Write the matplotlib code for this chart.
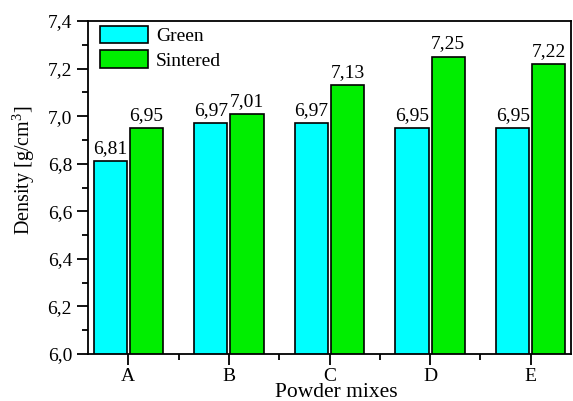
import matplotlib
matplotlib.use("Agg")
import matplotlib.pyplot as plt
from matplotlib.ticker import MultipleLocator
import numpy as np

plt.rcParams['font.family'] = ['Liberation Serif', 'DejaVu Serif']
plt.rcParams['mathtext.fontset'] = 'custom'
plt.rcParams['mathtext.rm'] = 'Liberation Serif'

categories = ['A', 'B', 'C', 'D', 'E']
green = [6.81, 6.97, 6.97, 6.95, 6.95]
sintered = [6.95, 7.01, 7.13, 7.25, 7.22]
green_labels = ['6,81', '6,97', '6,97', '6,95', '6,95']
sintered_labels = ['6,95', '7,01', '7,13', '7,25', '7,22']
yticks = [6.0, 6.2, 6.4, 6.6, 6.8, 7.0, 7.2, 7.4]
ytick_labels = ['6,0', '6,2', '6,4', '6,6', '6,8', '7,0', '7,2', '7,4']

fig = plt.figure(figsize=(5.73, 4.01), dpi=100)
ax = fig.add_axes([88/573, 1 - 354/401, (571-88)/573, (354-21)/401])

x = np.arange(len(categories))
w = 0.33
off = 0.18
ax.bar(x - off, green, w, bottom=0, color='#00FFFF', edgecolor='black', linewidth=1.2, label='Green')
ax.bar(x + off, sintered, w, bottom=0, color='#00EE00', edgecolor='black', linewidth=1.2, label='Sintered')

for xi, v, t in zip(x - off, green, green_labels):
    ax.annotate(t, (xi, v), xytext=(0, 3), textcoords='offset points', ha='center', va='bottom', fontsize=14)
for xi, v, t in zip(x + off, sintered, sintered_labels):
    ax.annotate(t, (xi, v), xytext=(0, 3), textcoords='offset points', ha='center', va='bottom', fontsize=14)

ax.set_ylim(6.0, 7.4)
ax.set_xlim(-0.4, 4.4)
ax.set_yticks(yticks)
ax.set_yticklabels(ytick_labels, fontsize=14)
ax.yaxis.set_minor_locator(MultipleLocator(0.1))
ax.set_xticks(x)
ax.set_xticklabels(categories, fontsize=14)
ax.xaxis.set_minor_locator(MultipleLocator(0.5))
ax.tick_params(which='major', direction='out', length=8, width=1.3)
ax.tick_params(which='minor', direction='out', length=4.5, width=1.3)
ax.tick_params(axis='x', pad=2)
for s in ax.spines.values():
    s.set_linewidth(1.3)

ax.set_ylabel('Density [g/cm$^3$]', fontsize=14.5)
ax.yaxis.set_label_coords(-0.106, 0.553)
ax.set_xlabel('Powder mixes', fontsize=15.5)
ax.xaxis.set_label_coords(0.514, -0.088)

ax.legend(loc='upper left', bbox_to_anchor=(0.0, 1.02), frameon=False, fontsize=14,
          handlelength=2.5, handleheight=1.0, borderaxespad=0.2, handletextpad=0.4, labelspacing=0.25)

fig.savefig('out.png', dpi=100)
